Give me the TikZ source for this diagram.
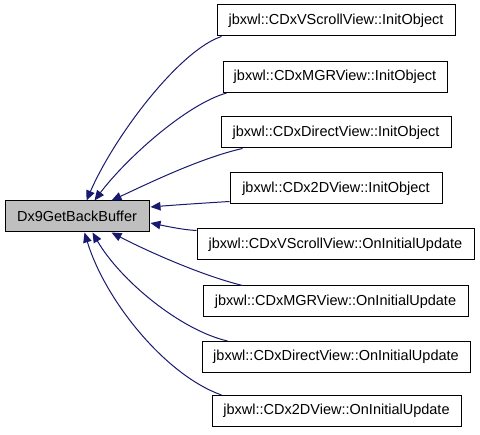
\documentclass[tikz,border=0pt]{standalone}
\usepackage{fontspec}
\setmainfont{Liberation Sans}
\usetikzlibrary{arrows.meta,calc}
\definecolor{edgeblue}{HTML}{191970}
\definecolor{nodegray}{HTML}{BFBFBF}
\begin{document}
\begin{tikzpicture}[x=1pt,y=-1pt,
  box/.style={draw=black,line width=1pt,minimum height=31pt,inner sep=0pt,
    font=\fontsize{14.5}{17}\selectfont,fill=white},
  edge/.style={draw=edgeblue,line width=1pt,-{Triangle[length=10pt,width=8.5pt]}}]
\useasboundingbox (0,0) rectangle (480,435);
\node[box,fill=nodegray,minimum width=144pt] (L) at (77,216.5) {Dx9GetBackBuffer};
\node[box,minimum width=238pt] (b1) at (336,20.5) {jbxwl::CDxVScrollView::InitObject};
\node[box,minimum width=224pt] (b2) at (335,77) {jbxwl::CDxMGRView::InitObject};
\node[box,minimum width=230pt] (b3) at (336,132.5) {jbxwl::CDxDirectView::InitObject};
\node[box,minimum width=212pt] (b4) at (336,188.5) {jbxwl::CDx2DView::InitObject};
\node[box,minimum width=277pt] (b5) at (335.5,244.5) {jbxwl::CDxVScrollView::OnInitialUpdate};
\node[box,minimum width=265pt] (b6) at (335.5,301.5) {jbxwl::CDxMGRView::OnInitialUpdate};
\node[box,minimum width=268pt] (b7) at (336,357) {jbxwl::CDxDirectView::OnInitialUpdate};
\node[box,minimum width=249pt] (b8) at (336.5,411) {jbxwl::CDx2DView::OnInitialUpdate};
% edges
\draw[edge] ($(b1.south west)+(5,0)$) .. controls (180,50) and (115,135) .. ($(L.north west)+(82,0)$);
\draw[edge] ($(b2.south west)+(4,0)$) .. controls (185,105) and (125,160) .. ($(L.north west)+(90,0)$);
\draw[edge] ($(b3.south west)+(22,0)$) .. controls (200,158) and (145,185) .. ($(L.north west)+(107,0)$);
\draw[edge] ($(b4.south west)+(0,-3)$) .. controls (205,203) and (175,205) .. ($(L.east)+(1,-9.5)$);
\draw[edge] ($(b5.north west)+(0,2)$) .. controls (185,230) and (170,227) .. ($(L.east)+(1,6.5)$);
\draw[edge] ($(b6.north west)+(40,0)$) .. controls (200,275) and (145,250) .. ($(L.south west)+(107,0)$);
\draw[edge] ($(b7.north west)+(26,0)$) .. controls (180,330) and (120,280) .. ($(L.south west)+(88,0)$);
\draw[edge] ($(b8.north west)+(10,0)$) .. controls (165,375) and (105,300) .. ($(L.south west)+(80,0)$);
\end{tikzpicture}
\end{document}
